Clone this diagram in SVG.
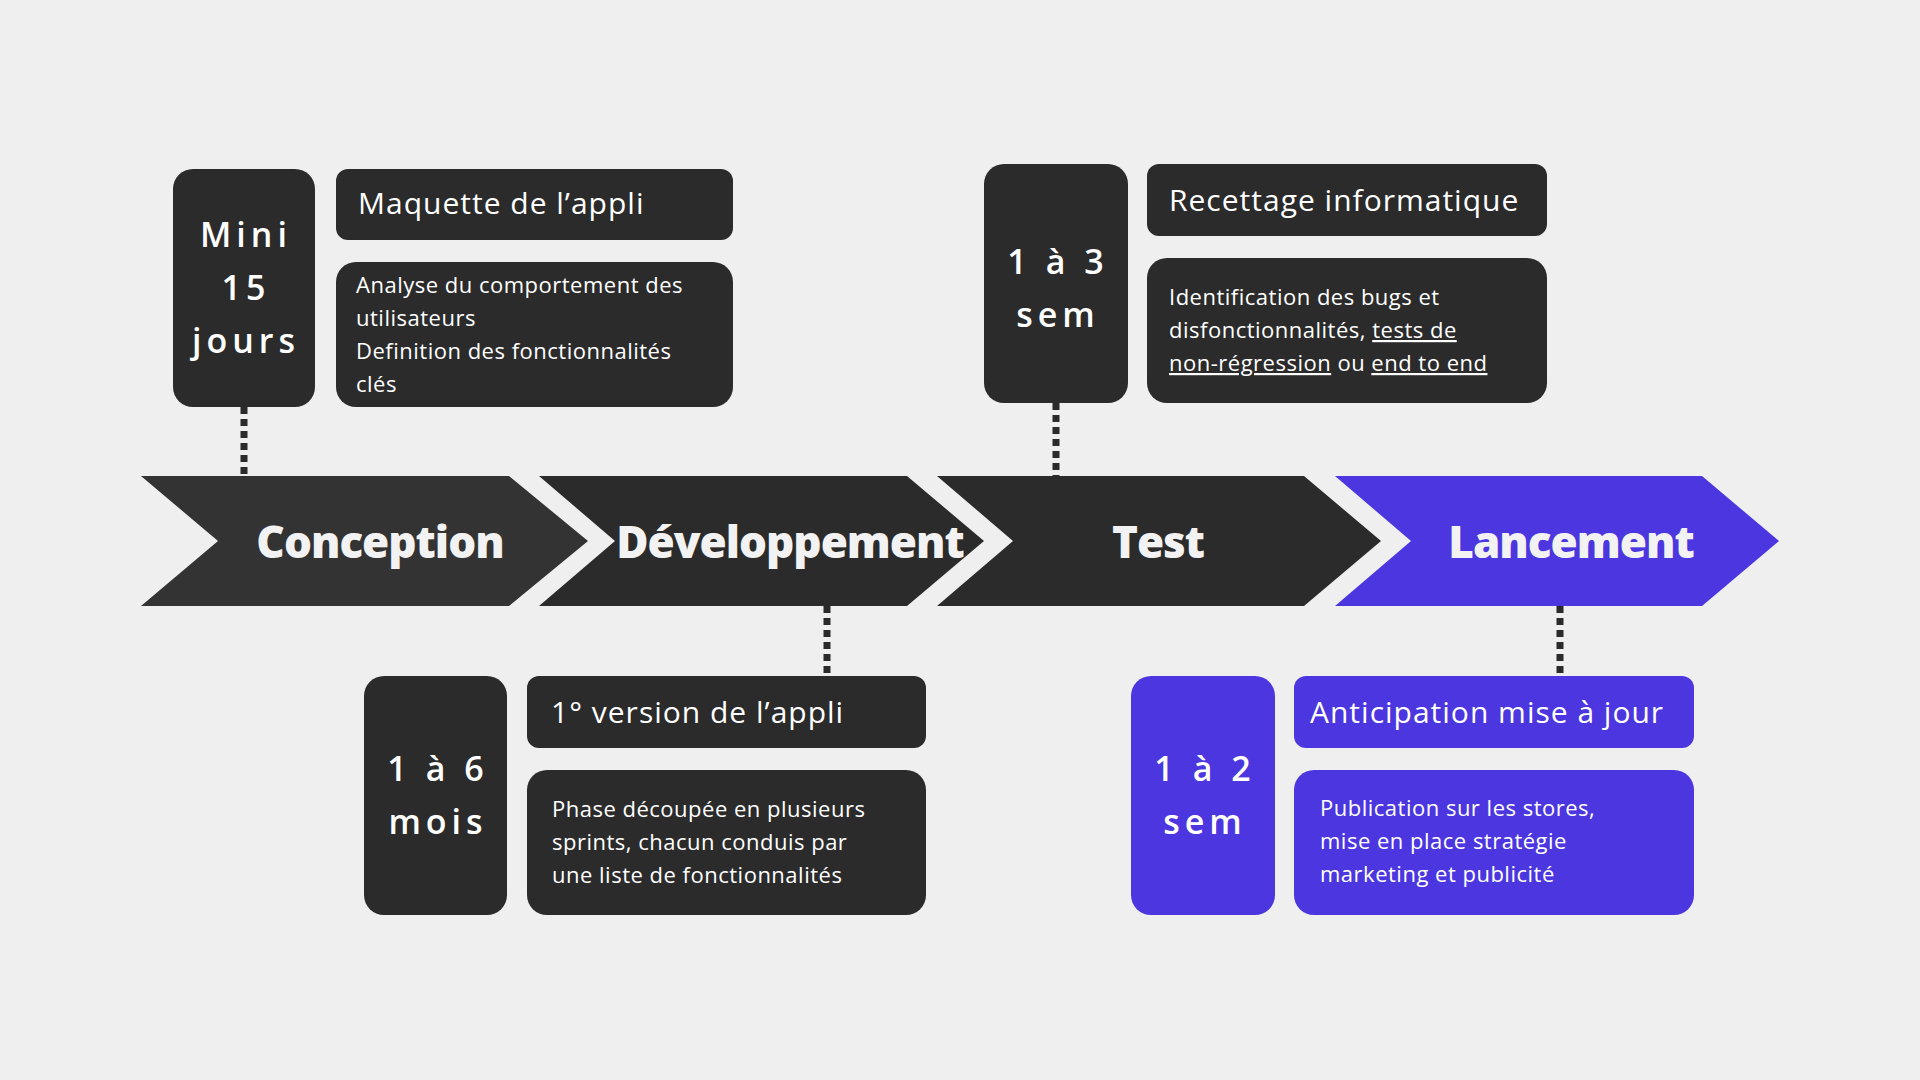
<svg xmlns="http://www.w3.org/2000/svg" width="1920" height="1080" viewBox="0 0 1920 1080">
<style>
.dk{fill:#2b2b2b}.pu{fill:#4b36e0}
.big{font-family:"Open Sans","Liberation Sans",sans-serif;font-weight:800;font-size:44px;fill:#f2f2f2;text-anchor:middle;dominant-baseline:central;letter-spacing:-1px}
.hd{font-family:"Open Sans","Liberation Sans",sans-serif;font-weight:500;font-size:30px;fill:#fff;letter-spacing:1px}
.ds{font-family:"Open Sans","Liberation Sans",sans-serif;font-size:22px;fill:#fff;letter-spacing:0.5px}
.dur{font-family:"Open Sans","Liberation Sans",sans-serif;font-weight:600;font-size:34px;fill:#fff;text-anchor:middle;letter-spacing:5px}
.dot{stroke:#2b2b2b;stroke-width:7;stroke-dasharray:7 5;fill:none}
u{text-decoration:underline}
</style>
<rect width="1920" height="1080" fill="#efefef"/>
<g id="connectors">
<line class="dot" x1="244" y1="407" x2="244" y2="476"/>
<line class="dot" x1="1056" y1="403" x2="1056" y2="476"/>
<line class="dot" x1="827" y1="606" x2="827" y2="676"/>
<line class="dot" x1="1560" y1="606" x2="1560" y2="676"/>
</g>
<g id="conception"><polygon fill="#333333" points="141,476 509,476 588,541 509,606 141,606 218,541"/><text class="big" x="380" y="541">Conception</text></g>
<g id="developpement"><polygon class="dk" points="539,476 907,476 984,541 907,606 539,606 615,541"/><text class="big" x="790" y="541">Développement</text></g>
<g id="test"><polygon class="dk" points="937,476 1304,476 1381,541 1304,606 937,606 1013,541"/><text class="big" x="1158" y="541">Test</text></g>
<g id="lancement"><polygon class="pu" points="1335,476 1702,476 1779,541 1702,606 1335,606 1411,541"/><text class="big" x="1571" y="541">Lancement</text></g>

<g id="conception-details">
<rect class="dk" x="173" y="169" width="142" height="238" rx="20"/>
<text class="dur" x="246" y="247">Mini</text><text class="dur" x="246" y="300">15</text><text class="dur" x="246" y="353">jours</text>
<rect class="dk" x="336" y="169" width="397" height="71" rx="12"/>
<text class="hd" x="358" y="214">Maquette de l’appli</text>
<rect class="dk" x="336" y="262" width="397" height="145" rx="20"/>
<text class="ds" x="356" y="293">Analyse du comportement des</text>
<text class="ds" x="356" y="326">utilisateurs</text>
<text class="ds" x="356" y="359">Definition des fonctionnalités</text>
<text class="ds" x="356" y="392">clés</text>
</g>
<g id="test-details">
<rect class="dk" x="984" y="164" width="144" height="239" rx="20"/>
<text class="dur" x="1058" y="274">1 à 3</text><text class="dur" x="1058" y="327">sem</text>
<rect class="dk" x="1147" y="164" width="400" height="72" rx="12"/>
<text class="hd" x="1169" y="211">Recettage informatique</text>
<rect class="dk" x="1147" y="258" width="400" height="145" rx="20"/>
<text class="ds" x="1169" y="305">Identification des bugs et</text>
<text class="ds" x="1169" y="338">disfonctionnalités, <tspan text-decoration="underline"> tests de</tspan></text>
<text class="ds" x="1169" y="371"><tspan text-decoration="underline">non-régression</tspan> ou <tspan text-decoration="underline">end to end</tspan></text>
</g>
<g id="dev-details">
<rect class="dk" x="364" y="676" width="143" height="239" rx="20"/>
<text class="dur" x="438" y="781">1 à 6</text><text class="dur" x="438" y="834">mois</text>
<rect class="dk" x="527" y="676" width="399" height="72" rx="12"/>
<text class="hd" x="551" y="723">1° version de l’appli</text>
<rect class="dk" x="527" y="770" width="399" height="145" rx="20"/>
<text class="ds" x="552" y="817">Phase découpée en plusieurs</text>
<text class="ds" x="552" y="850">sprints, chacun conduis par</text>
<text class="ds" x="552" y="883">une liste de fonctionnalités</text>
</g>
<g id="lancement-details">
<rect class="pu" x="1131" y="676" width="144" height="239" rx="20"/>
<text class="dur" x="1205" y="781">1 à 2</text><text class="dur" x="1205" y="834">sem</text>
<rect class="pu" x="1294" y="676" width="400" height="72" rx="12"/>
<text class="hd" x="1310" y="723">Anticipation mise à jour</text>
<rect class="pu" x="1294" y="770" width="400" height="145" rx="20"/>
<text class="ds" x="1320" y="816">Publication sur les stores,</text>
<text class="ds" x="1320" y="849">mise en place stratégie</text>
<text class="ds" x="1320" y="882">marketing et publicité</text>
</g>
</svg>
